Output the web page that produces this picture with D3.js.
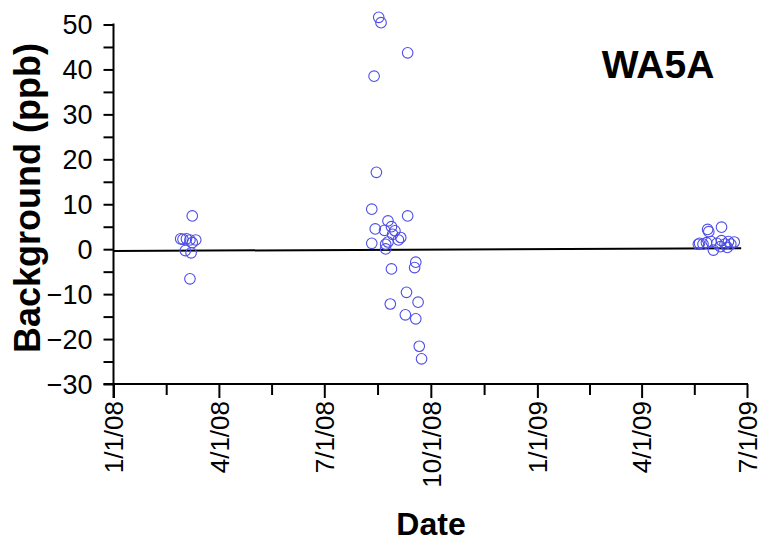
<!DOCTYPE html>
<html>
<head>
<meta charset="utf-8">
<script src="https://cdn.jsdelivr.net/npm/d3@7"></script>
<style>
  html, body { margin: 0; padding: 0; background: #fff; }
  svg { display: block; font-family: "Liberation Sans", Arial, sans-serif; }
</style>
</head>
<body>
<svg id="chart" width="758" height="544"></svg>
<script>
// ---- Data ----
const pointDates = [
  // early 2008 cluster
  "2008-03-09","2008-02-28","2008-03-01","2008-03-04","2008-03-07","2008-03-12","2008-03-09","2008-03-03","2008-03-08","2008-03-07",
  // Aug-Sep 2008 cluster
  "2008-08-17","2008-08-19","2008-09-11","2008-08-13","2008-08-15","2008-08-11","2008-09-11","2008-08-25","2008-08-14","2008-08-22",
  "2008-08-28","2008-08-31","2008-09-05","2008-09-03","2008-08-11","2008-08-25","2008-08-23","2008-08-23","2008-09-18","2008-09-17",
  "2008-08-28","2008-09-10","2008-09-20","2008-08-27","2008-09-09","2008-09-18","2008-09-21","2008-09-23","2008-08-29",
  // May-Jun 2009 cluster
  "2009-05-28","2009-06-09","2009-05-29","2009-05-21","2009-05-24","2009-05-27","2009-05-31","2009-06-02","2009-06-05","2009-06-09",
  "2009-06-12","2009-06-15","2009-06-17","2009-06-20","2009-06-08","2009-06-14","2009-05-20"
];
const pointValues = [
  7.4, 2.3, 2.2, 2.3, 2.05, 2.05, 1.45, -0.3, -0.8, -6.6,
  51.6, 50.4, 43.7, 38.5, 17.1, 8.9, 7.4, 6.3, 4.5, 4.2,
  5.0, 4.1, 2.6, 2.05, 1.3, 1.6, 1.1, 0.05, -2.9, -4.1,
  -4.4, -9.6, -11.8, -12.2, -14.6, -15.5, -21.6, -24.4, 3.3,
  4.4, 4.9, 3.9, 1.3, 1.15, 1.45, 1.7, -0.2, 1.3, 1.9,
  1.15, 1.7, 1.15, 1.6, 0.55, 0.4, 1.1
];
const trendDates = ["2008-01-01", "2009-06-26"];
const trendValues = [-0.4, 0.2];
const xTickDates = ["2008-01-01","2008-04-01","2008-07-01","2008-10-01","2009-01-01","2009-04-01","2009-07-01"];
const xTickLabels = ["1/1/08","4/1/08","7/1/08","10/1/08","1/1/09","4/1/09","7/1/09"];
const yTickValues = [-30,-20,-10,0,10,20,30,40,50];
const yDomain = [-30, 50];
const siteLabel = "WA5A";
const xTitle = "Date";
const yTitle = "Background (ppb)";

// ---- Layout ----
const parse = d3.utcParse("%Y-%m-%d");
const margin = { left: 113.5, right: 11, top: 24.5, bottom: 160 };
const W = 758, H = 544;
const svg = d3.select("#chart");

const x = d3.scaleUtc()
  .domain([parse(xTickDates[0]), parse(xTickDates[xTickDates.length - 1])])
  .range([margin.left, W - margin.right]);
const y = d3.scaleLinear().domain(yDomain).range([H - margin.bottom, margin.top]);

const axisColor = "#000";

// Y axis: major + minor ticks
const yMinor = d3.range(yDomain[0], yDomain[1] + 0.001, 5).filter(v => !yTickValues.includes(v));
svg.append("g")
  .attr("transform", `translate(${margin.left},0)`)
  .call(d3.axisLeft(y).tickValues(yMinor).tickSize(10).tickSizeOuter(0).tickFormat(""))
  .call(g => g.select(".domain").remove())
  .call(g => g.selectAll("line").attr("stroke", axisColor).attr("stroke-width", 2));

const yAxis = svg.append("g")
  .attr("transform", `translate(${margin.left},0)`)
  .call(d3.axisLeft(y).tickValues(yTickValues).tickSize(10).tickSizeOuter(0).tickPadding(11).tickFormat(d3.format("d")));
yAxis.select(".domain").remove();
yAxis.selectAll("line").attr("stroke", axisColor).attr("stroke-width", 2);
yAxis.selectAll("text").attr("fill", "#000").style("font-size", "27px").attr("dy", "0.35em");

// X axis: major + minor ticks
const xMajor = xTickDates.map(parse);
const xMinor = d3.pairs(xMajor).map(([a, b]) => new Date((+a + +b) / 2));
svg.append("g")
  .attr("transform", `translate(0,${y(yDomain[0])})`)
  .call(d3.axisBottom(x).tickValues(xMinor).tickSize(11).tickSizeOuter(0).tickFormat(""))
  .call(g => g.select(".domain").remove())
  .call(g => g.selectAll("line").attr("stroke", axisColor).attr("stroke-width", 2));

const xAxis = svg.append("g")
  .attr("transform", `translate(0,${y(yDomain[0])})`)
  .call(d3.axisBottom(x).tickValues(xMajor).tickSize(14).tickSizeOuter(0)
    .tickFormat((d, i) => xTickLabels[i]));
xAxis.select(".domain").remove();
xAxis.selectAll("line").attr("stroke", axisColor).attr("stroke-width", 2);
xAxis.selectAll("text")
  .attr("fill", "#000")
  .style("font-size", "26px")
  .style("text-anchor", "end")
  .attr("transform", "rotate(-90)")
  .attr("x", -17)
  .attr("y", 0)
  .attr("dy", "0.36em");

// Axis lines
svg.append("line")
  .attr("x1", margin.left).attr("x2", margin.left)
  .attr("y1", y(yDomain[1]) - 1).attr("y2", y(yDomain[0]) + 14)
  .attr("stroke", axisColor).attr("stroke-width", 2);
svg.append("line")
  .attr("x1", margin.left - 10).attr("x2", x(xMajor[xMajor.length - 1]) + 1)
  .attr("y1", y(yDomain[0])).attr("y2", y(yDomain[0]))
  .attr("stroke", axisColor).attr("stroke-width", 2);

// Trend line
const trend = trendDates.map((d, i) => ({ d: parse(d), v: trendValues[i] }));
svg.append("path")
  .datum(trend)
  .attr("fill", "none")
  .attr("stroke", "#000")
  .attr("stroke-width", 2)
  .attr("d", d3.line().x(p => x(p.d)).y(p => y(p.v)));

// Points
const pts = pointDates.map((d, i) => ({ d: parse(d), v: pointValues[i] }));
svg.append("g")
  .selectAll("circle")
  .data(pts)
  .join("circle")
  .attr("cx", p => x(p.d))
  .attr("cy", p => y(p.v))
  .attr("r", 5.3)
  .attr("fill", "none")
  .attr("stroke", "#4d4de8")
  .attr("stroke-width", 1.1);

// Titles
svg.append("text")
  .attr("x", 658).attr("y", 78)
  .attr("text-anchor", "middle")
  .style("font-size", "39px").style("font-weight", "bold")
  .text(siteLabel);

svg.append("text")
  .attr("x", 431).attr("y", 535)
  .attr("text-anchor", "middle")
  .style("font-size", "32px").style("font-weight", "bold")
  .text(xTitle);

svg.append("text")
  .attr("transform", "translate(40,198) rotate(-90)")
  .attr("text-anchor", "middle")
  .style("font-size", "36px").style("font-weight", "bold")
  .text(yTitle);
</script>
</body>
</html>
